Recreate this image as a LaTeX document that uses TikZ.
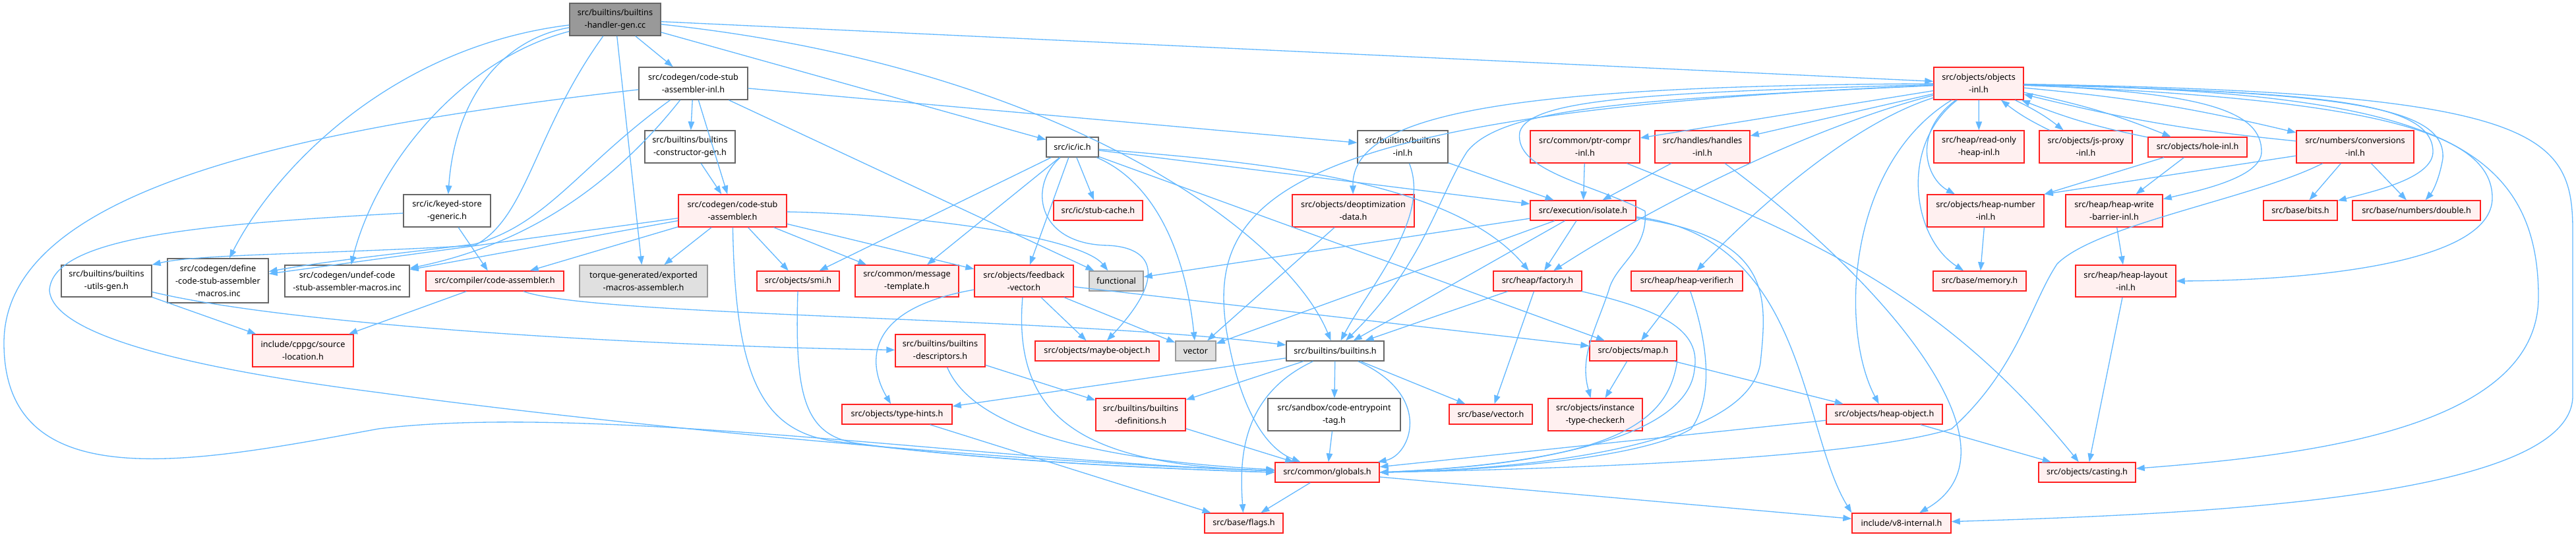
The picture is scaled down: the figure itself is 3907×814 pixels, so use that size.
\documentclass[tikz,border=0pt]{standalone}
\usepackage{fontspec}
\setmainfont{Noto Sans}
\usetikzlibrary{arrows.meta}
\definecolor{edgeblue}{HTML}{63B8FF}
\definecolor{truncline}{HTML}{FF2020}
\definecolor{truncfill}{HTML}{FFF0F0}
\definecolor{rootfill}{HTML}{999999}
\definecolor{darkline}{HTML}{666666}
\definecolor{sysfill}{HTML}{E0E0E0}
\definecolor{sysline}{HTML}{999999}
\tikzset{
  % Box sizes, given in pixels of the graph
  sz/.style 2 args={minimum width=#1*0.02cm, minimum height=#2*0.02cm},
  % Plain header boxes
  file/.style={
    draw=darkline, fill=white, line width=0.8pt, inner sep=0pt,
    align=center, text=black, font=\fontsize{7.2}{10.8}\selectfont,
  },
  % Headers whose graph is truncated
  trunc/.style={file, draw=truncline, fill=truncfill},
  % System headers
  sysfile/.style={file, draw=sysline, fill=sysfill},
  % The file the graph is about
  mainfile/.style={file, fill=rootfill},
  % Include arrows
  dep/.style={-{Triangle[length=0.26cm, width=0.19cm]}, line width=0.75pt, edgeblue},
}

\begin{document}
\begin{tikzpicture}[x=0.02cm, y=-0.02cm]
\useasboundingbox (0,0) rectangle (3907,814);

% ====================================================================
% Row 0 and 1
% ====================================================================
\node[mainfile, sz={138}{49}] (root) at (933,29.5)
  {src/builtins/builtins\\-handler-gen.cc};
\node[file, sz={165}{49}] (csainl) at (1051.5,126.5)
  {src/codegen/code-stub\\-assembler-inl.h};
\node[trunc, sz={136}{49}] (objinl) at (3001,126.5)
  {src/objects/objects\\-inl.h};

% ====================================================================
% Row 2
% ====================================================================
\node[file, sz={137}{49}] (ctorgen) at (1046.5,222.5)
  {src/builtins/builtins\\-constructor-gen.h};
\node[file, sz={79}{30}] (ic) at (1626.5,223) {src/ic/ic.h};
\node[file, sz={137}{49}] (bltinl) at (2127.5,222.5)
  {src/builtins/builtins\\-inl.h};
\node[trunc, sz={166}{49}] (ptrcompr) at (2404,222.5)
  {src/common/ptr-compr\\-inl.h};
\node[trunc, sz={144}{49}] (handles) at (2582,222.5)
  {src/handles/handles\\-inl.h};
\node[trunc, sz={137}{49}] (roheap) at (3001.5,222.5)
  {src/heap/read-only\\-heap-inl.h};
\node[trunc, sz={141}{49}] (jsproxy) at (3163.5,222.5)
  {src/objects/js-proxy\\-inl.h};
\node[trunc, sz={150}{30}] (hole) at (3333,223) {src/objects/hole-inl.h};
\node[trunc, sz={178}{49}] (conv) at (3572,222.5)
  {src/numbers/conversions\\-inl.h};

% ====================================================================
% Row 3
% ====================================================================
\node[file, sz={132}{49}] (keyed) at (678,319.5)
  {src/ic/keyed-store\\-generic.h};
\node[trunc, sz={164}{49}] (csa) at (1111,319.5)
  {src/codegen/code-stub\\-assembler.h};
\node[trunc, sz={135}{30}] (stubcache) at (1665.5,319) {src/ic/stub-cache.h};
\node[trunc, sz={185}{49}] (deopt) at (2052.5,319.5)
  {src/objects/deoptimization\\-data.h};
\node[trunc, sz={160}{30}] (isolate) at (2401,319) {src/execution/isolate.h};
\node[trunc, sz={177}{49}] (heapnum) at (3011.5,319.5)
  {src/objects/heap-number\\-inl.h};
\node[trunc, sz={147}{49}] (wbarrier) at (3206.5,319.5)
  {src/heap/heap-write\\-barrier-inl.h};
\node[trunc, sz={112}{30}] (bits) at (3489,319) {src/base/bits.h};
\node[trunc, sz={194}{30}] (double) at (3665,319) {src/base/numbers/double.h};

% ====================================================================
% Row 4
% ====================================================================
\node[file, sz={137}{48}] (utilsgen) at (161.5,426)
  {src/builtins/builtins\\-utils-gen.h};
\node[file, sz={153}{67}] (defineinc) at (330.5,425.5)
  {src/codegen/define\\-code-stub-assembler\\-macros.inc};
\node[file, sz={189}{48}] (undefinc) at (526.5,426)
  {src/codegen/undef-code\\-stub-assembler-macros.inc};
\node[trunc, sz={209}{30}] (codeasm) at (750.5,426) {src/compiler/code-assembler.h};
\node[sysfile, sz={194}{48}] (torque) at (976,426)
  {torque-generated/exported\\-macros-assembler.h};
\node[trunc, sz={125}{30}] (smi) at (1210.5,426) {src/objects/smi.h};
\node[trunc, sz={157}{48}] (msgtmpl) at (1375.5,426)
  {src/common/message\\-template.h};
\node[trunc, sz={150}{48}] (feedback) at (1553,426)
  {src/objects/feedback\\-vector.h};
\node[sysfile, sz={82}{30}] (functional) at (1693,426) {functional};
\node[trunc, sz={134}{30}] (factory) at (2332,426) {src/heap/factory.h};
\node[trunc, sz={169}{30}] (verifier) at (2558.5,426) {src/heap/heap-verifier.h};
\node[trunc, sz={141}{30}] (memory) at (3002.5,426) {src/base/memory.h};
\node[trunc, sz={152}{48}] (layout) at (3224,426)
  {src/heap/heap-layout\\-inl.h};

% ====================================================================
% Row 5
% ====================================================================
\node[trunc, sz={153}{49}] (srcloc) at (459.5,531.5)
  {include/cppgc/source\\-location.h};
\node[trunc, sz={136}{49}] (descr) at (1426,531.5)
  {src/builtins/builtins\\-descriptors.h};
\node[trunc, sz={188}{30}] (maybeobj) at (1664,532) {src/objects/maybe-object.h};
\node[sysfile, sz={61}{30}] (vector) at (1813.5,532) {vector};
\node[file, sz={148}{30}] (builtins) at (2025,532) {src/builtins/builtins.h};
\node[trunc, sz={132}{30}] (map) at (2477,532) {src/objects/map.h};

% ====================================================================
% Row 6
% ====================================================================
\node[trunc, sz={167}{30}] (typehints) at (1360.5,628) {src/objects/type-hints.h};
\node[trunc, sz={136}{49}] (defs) at (1730,628.5)
  {src/builtins/builtins\\-definitions.h};
\node[file, sz={201}{49}] (entrytag) at (2023.5,628.5)
  {src/sandbox/code-entrypoint\\-tag.h};
\node[trunc, sz={126}{30}] (basevec) at (2261,628) {src/base/vector.h};
\node[trunc, sz={143}{49}] (itchecker) at (2419.5,628.5)
  {src/objects/instance\\-type-checker.h};
\node[trunc, sz={176}{30}] (heapobj) at (2858,628) {src/objects/heap-object.h};

% ====================================================================
% Row 7 and 8
% ====================================================================
\node[trunc, sz={158}{30}] (globals) at (2013,716) {src/common/globals.h};
\node[trunc, sz={147}{30}] (casting) at (3165.5,716) {src/objects/casting.h};
\node[trunc, sz={119}{30}] (flags) at (1886.5,793) {src/base/flags.h};
\node[trunc, sz={150}{30}] (v8int) at (2884,793) {include/v8-internal.h};

% ====================================================================
% Includes of the root file
% ====================================================================
\draw[dep] (root) -- (csainl);
\draw[dep] (root) -- (objinl);
\draw[dep] (root) -- (ic);
\draw[dep] (root) -- (torque);
\draw[dep] (root) .. controls (1600,100) and (1950,350) .. (builtins);
\draw[dep] (root) .. controls (760,60) and (690,150) .. (keyed);
\draw[dep] (root) .. controls (600,70) and (420,250) .. (defineinc);
\draw[dep] (root) .. controls (700,90) and (570,250) .. (undefinc);
\draw[dep] (root) .. controls (810,200) and (800,330) .. (720,372)
  .. controls (500,385) and (300,385) .. (utilsgen.north east);

% ====================================================================
% Code stub assembler
% ====================================================================
\draw[dep] (csainl) -- (ctorgen);
\draw[dep] (csainl) -- (csa);
\draw[dep] (csainl) -- (bltinl);
\draw[dep] (csainl) -- (functional);
\draw[dep] (csainl) .. controls (880,250) and (830,340) .. (720,370)
  .. controls (600,385) and (500,395) .. (defineinc);
\draw[dep] (csainl) .. controls (930,280) and (800,370) .. (undefinc);
\draw[dep] (csainl) .. controls (400,200) and (6,300) .. (6,520)
  .. controls (6,760) and (300,700) .. (574,650)
  .. controls (900,610) and (1500,700) .. (globals);
\draw[dep] (ctorgen) -- (csa);
\draw[dep] (keyed) -- (codeasm);
\draw[dep] (keyed) .. controls (300,340) and (80,360) .. (75,440)
  .. controls (80,510) and (300,560) .. (574,595)
  .. controls (900,640) and (1500,700) .. (globals);

\foreach \dest in {defineinc, undefinc, codeasm, torque, smi, msgtmpl, feedback} {
  \draw[dep] (csa) -- (\dest);
}
\draw[dep] (csa) .. controls (1400,325) and (1640,360) .. (functional);
\draw[dep] (csa) .. controls (1115,560) and (1150,650) .. (1260,668)
  .. controls (1500,700) and (1800,712) .. (globals.west);

% ====================================================================
% ic.h
% ====================================================================
\foreach \dest in {smi, msgtmpl, feedback, stubcache, isolate, map} {
  \draw[dep] (ic) -- (\dest);
}
\draw[dep] (ic) .. controls (1760,280) and (1800,400) .. (vector);
\draw[dep] (ic) .. controls (1560,280) and (1570,370) .. (1680,372)
  .. controls (1750,375) and (1770,420) .. (maybeobj);
\draw[dep] (ic) .. controls (1900,245) and (2200,270) .. (factory);

% ====================================================================
% objects-inl.h
% ====================================================================
\draw[dep] (objinl) -- (roheap);
\draw[dep] (objinl) to[bend left=6] (jsproxy);
\draw[dep] (jsproxy) to[bend left=6] (objinl);
\draw[dep] (objinl) to[bend left=5] (hole);
\draw[dep] (hole) to[bend left=5] (objinl);
\draw[dep] (objinl) to[bend left=4] (conv);
\draw[dep] (conv) to[bend left=4] (objinl);
\draw[dep] (objinl) -- (ptrcompr);
\draw[dep] (objinl) -- (handles);
\draw[dep] (objinl) .. controls (2900,200) and (2920,270) .. (heapnum);
\draw[dep] (objinl) .. controls (2300,130) and (2050,170) .. (deopt);
\draw[dep] (objinl) .. controls (1950,170) and (1830,300) .. (1860,500)
  .. controls (1880,620) and (1920,680) .. (globals);
\draw[dep] (objinl) .. controls (2500,150) and (2280,160) .. (2225,230)
  .. controls (2180,300) and (2160,400) .. (builtins);
\draw[dep] (objinl) .. controls (2500,140) and (2320,150) .. (2305,200)
  .. controls (2295,260) and (2420,280) .. (2495,320)
  .. controls (2500,380) and (2450,400) .. (2440,440)
  .. controls (2420,500) and (2395,540) .. (itchecker);
\draw[dep] (objinl) .. controls (2720,200) and (2480,330) .. (factory);
\draw[dep] (objinl) .. controls (2800,190) and (2650,330) .. (verifier);
\draw[dep] (objinl) .. controls (2800,250) and (2790,500) .. (heapobj);
\draw[dep] (objinl) .. controls (2880,220) and (2900,360) .. (memory);
\draw[dep] (objinl) .. controls (3350,140) and (3430,170) .. (3430,230)
  .. controls (3430,270) and (3330,290) .. (wbarrier);
\draw[dep] (objinl) .. controls (3500,140) and (3690,150) .. (3690,230)
  .. controls (3690,270) and (3600,290) .. (bits);
\draw[dep] (objinl) .. controls (3550,140) and (3710,160) .. (3705,240)
  .. controls (3700,270) and (3690,290) .. (double);
\draw[dep] (objinl) .. controls (3600,150) and (3780,200) .. (3780,300)
  .. controls (3780,400) and (3500,425) .. (layout.east);
\draw[dep] (objinl) .. controls (3650,140) and (3850,200) .. (3850,450)
  .. controls (3850,650) and (3500,690) .. (casting);
\draw[dep] (objinl) .. controls (3850,140) and (3902,200) .. (3902,350)
  -- (3902,600) .. controls (3902,760) and (3300,780) .. (v8int);

% ====================================================================
% Second level headers
% ====================================================================
\draw[dep] (hole) -- (heapnum.north east);
\draw[dep] (hole) -- (wbarrier);
\draw[dep] (conv) -- (heapnum.north east);
\draw[dep] (conv) -- (bits);
\draw[dep] (conv) -- (double);
\draw[dep] (conv) .. controls (3420,300) and (3180,340) .. (3120,400)
  .. controls (3080,460) and (3060,560) .. (2960,650)
  .. controls (2800,700) and (2300,712) .. (globals.east);
\draw[dep] (heapnum) -- (memory);
\draw[dep] (wbarrier) -- (layout);
\draw[dep] (layout) -- (casting);

\draw[dep] (bltinl) -- (isolate);
\draw[dep] (bltinl) .. controls (2170,330) and (2080,430) .. (builtins);
\draw[dep] (ptrcompr) -- (isolate);
\draw[dep] (ptrcompr) .. controls (2750,360) and (2950,450) .. (casting);
\draw[dep] (handles) -- (isolate);
\draw[dep] (handles) .. controls (2850,420) and (3080,680) .. (v8int);

\foreach \dest in {functional, vector, builtins, factory} {
  \draw[dep] (isolate) -- (\dest);
}
\draw[dep] (isolate) .. controls (2690,360) and (2680,450) .. (2670,550)
  .. controls (2650,680) and (2300,712) .. (globals.east);
\draw[dep] (isolate) .. controls (2740,360) and (2730,650) .. (v8int.north west);
\draw[dep] (deopt) -- (vector);

\draw[dep] (feedback) .. controls (1300,470) and (1320,560) .. (typehints);
\draw[dep] (feedback) -- (maybeobj);
\draw[dep] (feedback) -- (vector);
\draw[dep] (feedback) -- (map);
\draw[dep] (feedback) .. controls (1535,640) and (1650,705) .. (globals);
\draw[dep] (smi) .. controls (1205,600) and (1220,660) .. (1300,672)
  .. controls (1500,700) and (1800,712) .. (globals.west);

\draw[dep] (codeasm) -- (srcloc);
\draw[dep] (codeasm) .. controls (900,480) and (1600,480) .. (builtins);
\draw[dep] (utilsgen) -- (srcloc);
\draw[dep] (utilsgen) .. controls (450,495) and (1000,525) .. (descr);
\draw[dep] (descr) -- (defs);
\draw[dep] (descr) .. controls (1480,660) and (1700,700) .. (globals);

\foreach \dest in {typehints, defs, entrytag, basevec} {
  \draw[dep] (builtins) -- (\dest);
}
\draw[dep] (builtins) .. controls (1880,600) and (1880,700) .. (flags);
\draw[dep] (builtins) .. controls (2175,600) and (2140,690) .. (globals);

\draw[dep] (factory) -- (builtins);
\draw[dep] (factory) -- (basevec);
\draw[dep] (factory) .. controls (2520,470) and (2580,500) .. (2570,560)
  .. controls (2560,660) and (2350,705) .. (globals.east);
\draw[dep] (verifier) -- (map);
\draw[dep] (verifier) .. controls (2590,520) and (2600,600) .. (2565,650)
  .. controls (2500,690) and (2300,712) .. (globals.east);
\draw[dep] (map) -- (itchecker);
\draw[dep] (map) -- (heapobj);
\draw[dep] (map.south east) .. controls (2530,640) and (2450,700) .. (globals.east);
\draw[dep] (heapobj) -- (globals);
\draw[dep] (heapobj) -- (casting);

% ====================================================================
% Bottom rows
% ====================================================================
\draw[dep] (typehints) -- (flags);
\draw[dep] (defs) -- (globals);
\draw[dep] (entrytag) -- (globals);
\draw[dep] (globals) -- (flags);
\draw[dep] (globals) -- (v8int);

\end{tikzpicture}
\end{document}
